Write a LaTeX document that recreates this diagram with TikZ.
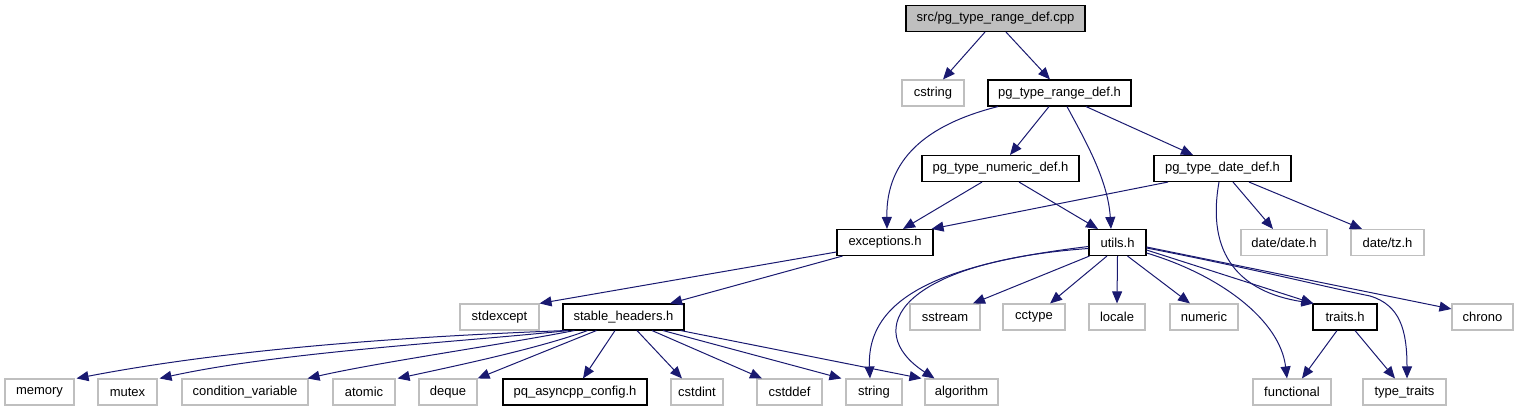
\documentclass[tikz,border=0pt]{standalone}
\usepackage{fontspec}
\setmainfont{Liberation Sans}
\usetikzlibrary{arrows.meta}
\definecolor{edgec}{HTML}{191970}
\definecolor{lgray}{HTML}{BFBFBF}
\tikzset{
 box/.style={draw, rectangle, minimum height=26pt, inner sep=0pt, font=\fontsize{13}{15}\selectfont, fill=white, line width=1.1pt},
 ext/.style={box, draw=lgray},
 loc/.style={box, draw=black},
 root/.style={box, draw=black, fill=lgray},
 dep/.style={draw=edgec, line width=1pt, -{Triangle[length=12pt,width=10pt]}},
}
\begin{document}
\begin{tikzpicture}[x=1pt,y=-1pt]
\useasboundingbox (0,0) rectangle (1519,411);
% row 1
\node[root, minimum width=179pt] (cpp) at (995.5,18.5) {src/pg\_type\_range\_def.cpp};
% row 2
\node[ext, minimum width=62pt] (cstring) at (933,93) {cstring};
\node[loc, minimum width=143pt] (range) at (1059.5,93) {pg\_type\_range\_def.h};
% row 3
\node[loc, minimum width=157pt] (numdef) at (1000.5,168.5) {pg\_type\_numeric\_def.h};
\node[loc, minimum width=137pt] (datedef) at (1222.5,168.5) {pg\_type\_date\_def.h};
% row 4
\node[loc, minimum width=96pt] (exc) at (885,242.5) {exceptions.h};
\node[loc, minimum width=57pt] (utils) at (1117.5,242.5) {utils.h};
\node[ext, minimum width=86pt] (ddate) at (1284,242.5) {date/date.h};
\node[ext, minimum width=73pt] (dtz) at (1387.5,242.5) {date/tz.h};
% row 5
\node[ext, minimum width=79pt] (stdexcept) at (499.5,317) {stdexcept};
\node[loc, minimum width=121pt] (stable) at (623.5,317) {stable\_headers.h};
\node[ext, minimum width=70pt] (sstream) at (945,317) {sstream};
\node[ext, minimum width=62pt] (cctype) at (1034,317) {cctype};
\node[ext, minimum width=56pt] (locale) at (1117,317) {locale};
\node[ext, minimum width=68pt] (numstd) at (1204,317) {numeric};
\node[loc, minimum width=64pt] (traits) at (1345,317) {traits.h};
\node[ext, minimum width=61pt] (chrono) at (1482.5,317) {chrono};
% row 6
\node[ext, minimum width=69pt] (memory) at (39.5,392) {memory};
\node[ext, minimum width=59pt] (mutex) at (127.5,392) {mutex};
\node[ext, minimum width=126pt] (condvar) at (245,392) {condition\_variable};
\node[ext, minimum width=62pt] (atomic) at (364,392) {atomic};
\node[ext, minimum width=58pt] (deque) at (448,392) {deque};
\node[loc, minimum width=144pt] (pq) at (575,392) {pq\_asyncpp\_config.h};
\node[ext, minimum width=52pt] (cstdint) at (697,392) {cstdint};
\node[ext, minimum width=65pt] (cstddef) at (789.5,392) {cstddef};
\node[ext, minimum width=56pt] (string) at (874,392) {string};
\node[ext, minimum width=73pt] (algorithm) at (961.5,392) {algorithm};
\node[ext, minimum width=78pt] (functional) at (1292,392) {functional};
\node[ext, minimum width=83pt] (typetraits) at (1404.5,392) {type\_traits};
% edges
\draw[dep] ([xshift=-10.5pt]cpp.south) -- ([xshift=10pt]cstring.north);
\draw[dep] ([xshift=10.5pt]cpp.south) -- ([xshift=-9.5pt]range.north);
\draw[dep] ([xshift=-61.5pt]range.south) .. controls (925,125) and (886,160) .. ([xshift=2pt]exc.north);
\draw[dep] ([xshift=-10.5pt]range.south) -- ([xshift=9.5pt]numdef.north);
\draw[dep] ([xshift=7.5pt]range.south) .. controls (1085,140) and (1108,180) .. ([xshift=-6.5pt]utils.north);
\draw[dep] ([xshift=26.5pt]range.south) -- ([xshift=-29.5pt]datedef.north);
\draw[dep] ([xshift=-18.5pt]numdef.south) -- ([xshift=18pt]exc.north);
\draw[dep] ([xshift=18.5pt]numdef.south) -- ([xshift=-19.5pt]utils.north);
\draw[dep] ([xshift=-54.5pt]datedef.south) -- ([xshift=-2pt]exc.north east);
\draw[dep] ([xshift=10.5pt]datedef.south) -- ([xshift=-11pt]ddate.north);
\draw[dep] ([xshift=26.5pt]datedef.south) -- ([xshift=-25.5pt]dtz.north);
\draw[dep] ([xshift=-3.5pt]datedef.south) .. controls (1206,255) and (1240,292) .. ([xshift=1pt]traits.north west);
\draw[dep] ([yshift=-7.5pt]utils.east) -- ([xshift=1pt]traits.north west);
\draw[dep] ([yshift=-4.5pt]utils.east) -- ([yshift=8pt]chrono.west);
\draw[dep] ([yshift=-5.5pt]utils.east) .. controls (1250,268) and (1330,288) .. (1370,296) .. controls (1400,305) and (1407,330) .. ([xshift=2.5pt]typetraits.north);
\draw[dep] ([yshift=-10.5pt]utils.east) .. controls (1220,275) and (1280,320) .. ([xshift=-5pt]functional.north);
\draw[dep] ([xshift=-8pt]traits.south) -- ([xshift=10pt]functional.north);
\draw[dep] ([xshift=10pt]traits.south) -- ([xshift=-9.5pt]typetraits.north);
\draw[dep] ([xshift=1pt]utils.south west) -- ([xshift=28pt]sstream.north);
\draw[dep] ([xshift=-10.5pt]utils.south) -- ([xshift=16pt]cctype.north);
\draw[dep] (utils.south) -- (locale.north);
\draw[dep] ([xshift=10pt]utils.south) -- ([xshift=-14pt]numstd.north);
\draw[dep] ([yshift=-4pt]utils.west) .. controls (960,262) and (866,290) .. ([xshift=-4pt]string.north);
\draw[dep] ([yshift=-6pt]utils.west) .. controls (900,262) and (860,330) .. ([xshift=-27pt]algorithm.north);
\draw[dep] ([yshift=-9.5pt]exc.west) -- (stdexcept.north east);
\draw[dep] ([xshift=6pt]exc.south west) -- ([xshift=46.5pt]stable.north);
\draw[dep] ([xshift=3pt]stable.south west) .. controls (450,335) and (250,345) .. ([xshift=2pt]memory.north east);
\draw[dep] ([xshift=6pt]stable.south west) .. controls (460,342) and (280,352) .. ([xshift=2pt]mutex.north east);
\draw[dep] ([xshift=12pt]stable.south west) .. controls (500,345) and (380,362) .. ([xshift=-1pt]condvar.north east);
\draw[dep] ([xshift=25pt]stable.south west) .. controls (540,348) and (460,365) .. ([xshift=2pt]atomic.north east);
\draw[dep] ([xshift=34pt]stable.south west) -- (deque.north east);
\draw[dep] ([xshift=-8.5pt]stable.south) -- ([xshift=8pt]pq.north);
\draw[dep] ([xshift=13.5pt]stable.south) -- ([xshift=-15pt]cstdint.north);
\draw[dep] ([xshift=28.5pt]stable.south) -- ([xshift=-27.5pt]cstddef.north);
\draw[dep] ([xshift=39.5pt]stable.south) -- ([xshift=-4pt]string.north west);
\draw[dep] ([xshift=-4pt]stable.south east) -- ([xshift=-3pt]algorithm.north west);
\end{tikzpicture}
\end{document}
